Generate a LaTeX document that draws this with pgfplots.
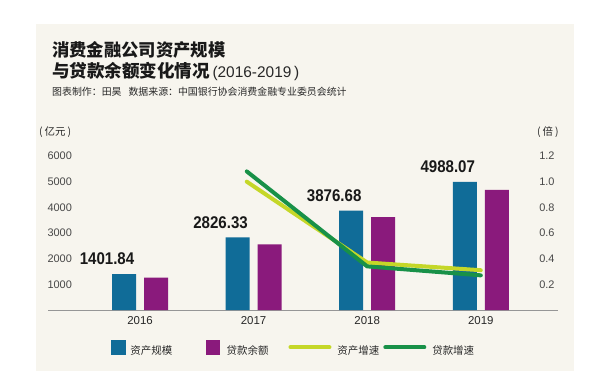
\documentclass[border=0pt]{standalone}
\usepackage{fontspec}
\setmainfont{Liberation Sans}
\newfontfamily\cjk{Noto Sans CJK SC}
\usepackage{graphicx}
\usepackage{pgfplots}
\pgfplotsset{compat=1.18}
\definecolor{bgc}{RGB}{247,245,238}
\definecolor{cblue}{RGB}{16,108,152}
\definecolor{cpurple}{RGB}{138,26,124}
\definecolor{cyellow}{RGB}{197,215,40}
\definecolor{cgreen}{RGB}{24,145,72}
\definecolor{ctext}{RGB}{40,40,40}
\definecolor{cgray}{RGB}{150,150,150}
\newcommand{\vlab}[1]{{\fontsize{17}{18}\selectfont\bfseries\scalebox{0.89}[1]{#1}}}
\begin{document}
\begin{tikzpicture}[x=1bp,y=1bp]
\useasboundingbox (0,0) rectangle (597,389);
\fill[white] (0,0) rectangle (597,389);
\fill[bgc] (36,18) rectangle (574,365);
\node[anchor=west,inner sep=0pt,text=black!90] at (52,339) {\cjk\bfseries\fontsize{17.4}{20}\selectfont 消费金融公司资产规模};
\node[anchor=west,inner sep=0pt,text=black!90] at (52,318) {\cjk\bfseries\fontsize{17.6}{20}\selectfont 与贷款余额变化情况\hspace{2.5bp}{\normalfont\fontsize{15.5}{18}\selectfont\color{ctext}(2016-2019\,)}};
\node[anchor=west,inner sep=0pt,text=ctext] at (52,297) {\cjk\fontsize{9.95}{12}\selectfont 图表制作：田昊\hspace{0.7em}数据来源：中国银行协会消费金融专业委员会统计};
\node[anchor=west,inner sep=0pt,text=ctext] at (39,257) {\cjk\fontsize{10.5}{12}\selectfont (\hspace{2bp}亿元\hspace{2bp})};
\node[anchor=west,inner sep=0pt,text=ctext] at (537,257) {\cjk\fontsize{10.5}{12}\selectfont (\hspace{2bp}倍\hspace{2bp})};
\begin{axis}[
  at={(48bp,79bp)}, anchor=south west, scale only axis,
  width=510bp, height=154bp,
  xmin=-0.81, xmax=3.68, ymin=0, ymax=6000,
  axis x line*=bottom, axis y line*=left,
  x axis line style={draw=cgray, line width=0.8bp, -},
  y axis line style={draw=none},
  xtick={0,1,2,3}, xticklabels={2016,2017,2018,2019},
  xtick style={draw=none}, ytick style={draw=none},
  ytick={1000,2000,3000,4000,5000,6000},
  /pgf/number format/assume math mode=true,
  /pgf/number format/1000 sep={},
  xticklabel style={font=\fontsize{11.5}{13}\selectfont, text=ctext, yshift=-3bp},
  yticklabel style={font=\fontsize{11}{13}\selectfont, text=ctext!85, anchor=west, xshift=-4bp},
  clip=false,
]
\addplot[ybar, bar width=24bp, bar shift=-16bp, fill=cblue, draw=none,
  nodes near coords={\vlab{\pgfplotspointmeta}},
  point meta=explicit symbolic,
  every node near coord/.style={text=black!90, anchor=center, inner sep=0pt, xshift=-33bp, yshift=15bp}]
  coordinates {(0,1401.84) [1401.84] (1,2826.33) [2826.33] (2,3876.68) [3876.68] (3,4988.07) [4988.07]};
\addplot[ybar, bar width=24bp, bar shift=16bp, fill=cpurple, draw=none]
  coordinates {(0,1260) (1,2560) (2,3620) (3,4680)};
\end{axis}
\begin{axis}[
  at={(48bp,79bp)}, anchor=south west, scale only axis,
  width=510bp, height=154bp,
  xmin=-0.81, xmax=3.68, ymin=0, ymax=1.2,
  axis x line=none, axis y line*=right,
  y axis line style={draw=none}, ytick style={draw=none},
  ytick={0.2,0.4,0.6,0.8,1.0,1.2},
  yticklabel style={font=\fontsize{11}{13}\selectfont, text=ctext!85, anchor=east, xshift=0bp,
    /pgf/number format/.cd, fixed, fixed zerofill, precision=1},
  /pgf/number format/assume math mode=true,
  clip=false,
  legend columns=4,
  legend style={draw=none, fill=none, at={(0.1235,-0.247)}, anchor=west,
    inner sep=0pt, outer sep=0pt, column sep=0pt,
    nodes={inner sep=0pt, font=\cjk\fontsize{10.5}{12}\selectfont, text=ctext},
    /tikz/column 1/.style={column sep=5bp},
    /tikz/column 2/.style={column sep=34bp},
    /tikz/column 3/.style={column sep=7bp},
    /tikz/column 4/.style={column sep=20bp},
    /tikz/column 5/.style={column sep=6bp},
    /tikz/column 6/.style={column sep=4bp},
    /tikz/column 7/.style={column sep=6bp}},
]
\addlegendimage{legend image code/.code={\fill[cblue] (0bp,-3.5bp) rectangle (14bp,10.5bp);}}
\addlegendentry{资产规模}
\addlegendimage{legend image code/.code={\fill[cpurple] (0bp,-3.5bp) rectangle (13bp,10.5bp);}}
\addlegendentry{贷款余额}
\addplot[cyellow, line width=4bp, line cap=round, line join=round,
  legend image code/.code={\draw[cyellow,line width=4bp,line cap=round] (2bp,3.5bp) -- (41bp,3.5bp);}]
  coordinates {(0.94,1.0) (2,0.37) (3,0.31)};
\addlegendentry{资产增速}
\addplot[cgreen, line width=4bp, line cap=round, line join=round,
  legend image code/.code={\draw[cgreen,line width=4bp,line cap=round] (2bp,3.5bp) -- (41bp,3.5bp);}]
  coordinates {(0.94,1.08) (2,0.34) (3,0.27)};
\addlegendentry{贷款增速}
\end{axis}
\end{tikzpicture}
\end{document}
